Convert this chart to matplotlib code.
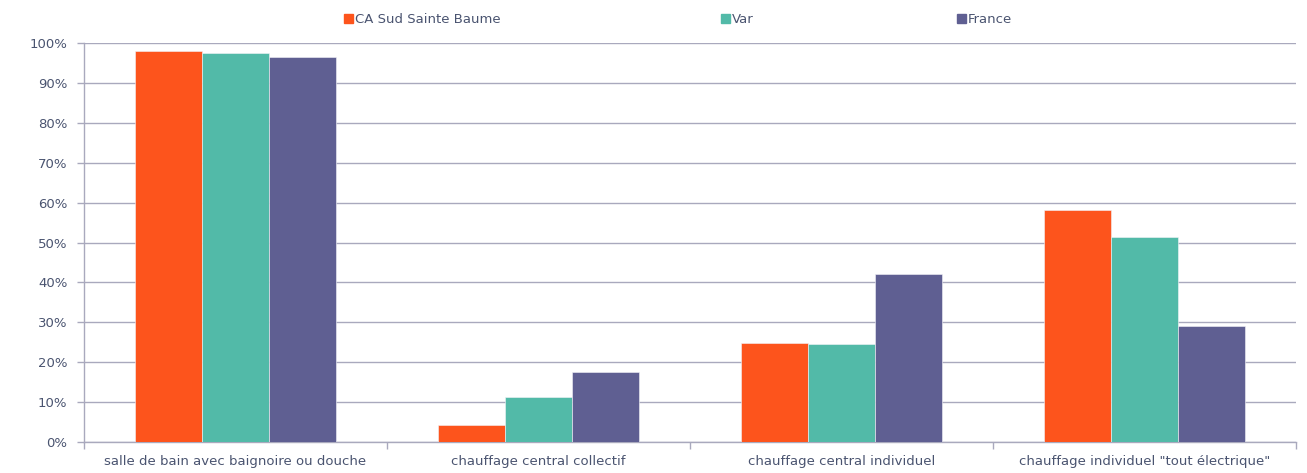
import matplotlib.pyplot as plt
import numpy as np
from matplotlib.patches import Patch
from matplotlib.ticker import FuncFormatter, MultipleLocator

categories = ['salle de bain avec baignoire ou douche', 'chauffage central collectif',
              'chauffage central individuel', 'chauffage individuel "tout électrique"']
series = ['CA Sud Sainte Baume', 'Var', 'France']
ca_ssb = [97.9, 4.3, 24.8, 58.1]
var = [97.4, 11.2, 24.5, 51.5]
france = [96.5, 17.6, 42.1, 29.1]

colors = ['#fd541c', '#52baa8', '#5f5f92']
txt = '#4a5470'
grid = '#a9a9bd'

plt.rcParams['font.family'] = 'DejaVu Sans'
plt.rcParams['font.size'] = 9.5

fig = plt.figure(figsize=(13.07, 4.73), dpi=100)
ax = fig.add_axes([0.0643, 0.0655, 0.9273, 0.8435])

x = np.arange(len(categories))
w = 0.222
for i, vals in enumerate([ca_ssb, var, france]):
    ax.bar(x + (i - 1) * w, vals, w, color=colors[i], edgecolor='#f4f4f8', linewidth=0.4, zorder=3)

ax.set_xlim(-0.5, len(categories) - 0.5)
ax.set_ylim(0, 100)
ax.yaxis.set_major_locator(MultipleLocator(10))
ax.yaxis.set_major_formatter(FuncFormatter(lambda v, p: '%d%%' % v))
ax.grid(axis='y', color=grid, linewidth=1, zorder=0)

ax.set_xticks(x)
ax.set_xticklabels(categories, color=txt)
ax.set_xticks(np.arange(-0.5, len(categories)), minor=True)
ax.tick_params(axis='x', which='major', length=0, pad=9)
ax.tick_params(axis='x', which='minor', length=5, color=grid, width=1)
ax.tick_params(axis='y', length=5, color=grid, width=1, labelcolor=txt, pad=7)

for s in ['top', 'right']:
    ax.spines[s].set_visible(False)
for s in ['left', 'bottom']:
    ax.spines[s].set_color(grid)
    ax.spines[s].set_linewidth(1)

# legend entries are not evenly spaced in the original, one legend per entry
leg_x = [344, 721, 957]
for i in range(3):
    leg = fig.legend([Patch(color=colors[i])], [series[i]], loc='center left',
                     bbox_to_anchor=(leg_x[i] / 1307, 0.958), frameon=False,
                     borderpad=0, borderaxespad=0, handlelength=0.65, handleheight=0.65,
                     handletextpad=0.15, fontsize=9.5)
    leg.get_texts()[0].set_color(txt)

fig.savefig('out.png', dpi=100)
